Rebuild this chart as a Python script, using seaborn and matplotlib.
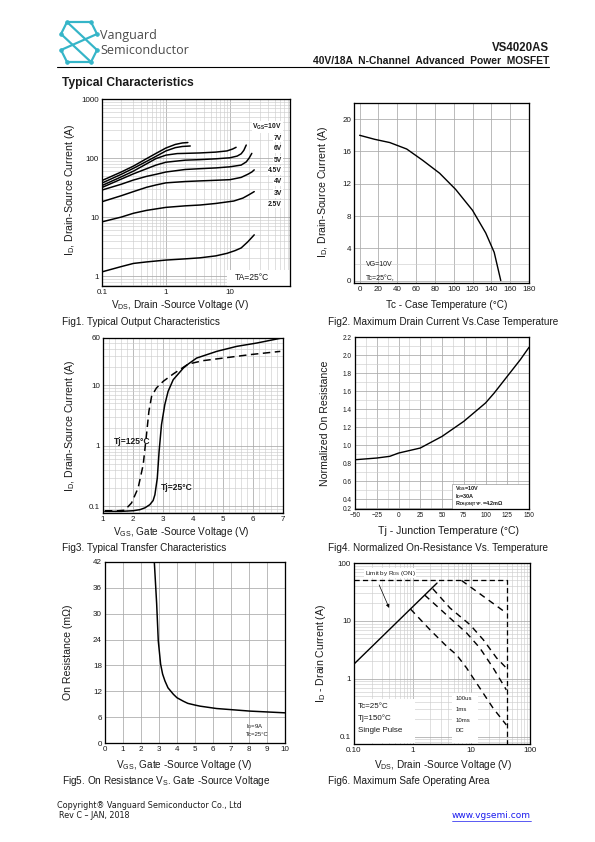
import numpy as np
import matplotlib
matplotlib.use("Agg")
import matplotlib.pyplot as plt
import seaborn as sns
from matplotlib.ticker import LogLocator, MultipleLocator, NullFormatter, FixedLocator
from matplotlib.patches import Rectangle
from matplotlib.lines import Line2D

# ---------------- data ----------------
# Fig1  Typical output characteristics (VDS [V], ID [A])
vgs_labels = [r"V$_{\mathbf{GS}}$=10V", "7V", "6V", "5V", "4.5V", "4V", "3V", "2.5V"]
vds_10v = [0.1, 0.2, 0.31, 0.5, 0.7, 1.0, 1.4, 1.8, 2.2]
id_10v = [41.6, 58, 73, 98, 120, 148, 170, 180, 183]
vds_7v = [0.1, 0.2, 0.31, 0.5, 0.7, 1.0, 1.4, 1.8, 2.4]
id_7v = [37.7, 53, 67, 88, 107, 132, 150, 157, 160]
vds_6v = [0.1, 0.2, 0.31, 0.5, 0.7, 1.0, 1.5, 2.0, 3.4, 6.0, 9.0, 11.0, 12.5]
id_6v = [34.2, 48, 60, 80, 98, 112, 119, 120, 122, 126, 132, 142, 152]
vds_5v = [0.1, 0.2, 0.31, 0.5, 0.7, 1.0, 2.0, 3.4, 6.0, 10.0, 13.0, 15.0, 16.5, 18.0]
id_5v = [31.7, 44, 54, 66, 76, 85, 92, 94, 97, 101, 108, 118, 135, 166]
vds_45v = [0.1, 0.2, 0.31, 0.5, 0.7, 1.0, 2.0, 3.4, 6.0, 10.0, 15.0, 18.0, 20.0, 22.0]
id_45v = [28.7, 36, 42.4, 49, 53, 58, 64, 66, 68, 71, 76, 86, 100, 120]
vds_4v = [0.1, 0.2, 0.31, 0.5, 0.7, 1.0, 2.0, 3.4, 6.0, 10.0, 15.0, 19.0, 22.0, 24.0]
id_4v = [18.2, 23, 27, 32, 35, 38, 40, 41, 42, 43, 47, 53, 58, 63]
vds_3v = [0.1, 0.2, 0.31, 0.5, 1.0, 2.0, 3.4, 6.0, 11.5, 16.0, 20.0, 24.0]
id_3v = [8.3, 10, 11.6, 13, 14.6, 15.5, 16, 17, 18.7, 21, 24, 27]
vds_25v = [0.1, 0.2, 0.31, 0.5, 1.0, 2.0, 3.4, 6.0, 9.0, 12.0, 15.0, 19.0, 24.0]
id_25v = [1.18, 1.45, 1.64, 1.74, 1.87, 1.96, 2.04, 2.2, 2.43, 2.7, 3.0, 3.8, 5.0]
fig1_xticks = [0.1, 1, 10]
fig1_xticklabels = ["0.1", "1", "10"]
fig1_yticks = [1, 10, 100, 1000]
fig1_yticklabels = ["1", "10", "100", "1000"]

# Fig2  Maximum drain current vs case temperature
tc_case = [0, 16, 32, 50, 67, 85, 102, 120, 134, 143, 150]
id_max = [18.0, 17.5, 17.1, 16.3, 14.9, 13.3, 11.3, 8.7, 5.9, 3.5, 0.0]
fig2_xticks = list(range(0, 181, 20))
fig2_yticks = [0, 4, 8, 12, 16, 20]

# Fig3  Transfer characteristics
vgs_25 = [1.06, 1.6, 2.0, 2.23, 2.4, 2.56, 2.67, 2.73, 2.81, 2.87, 2.95, 3.06, 3.17,
          3.34, 3.68, 3.84, 4.12, 4.79, 5.46, 6.13, 6.96]
id_25 = [0.083, 0.083, 0.085, 0.0885, 0.095, 0.107, 0.125, 0.156, 0.294, 0.81, 2.23,
         4.77, 7.9, 12.3, 19.2, 22.3, 28, 36.1, 43.7, 49.6, 60]
vgs_125 = [1.06, 1.5, 1.72, 1.95, 2.17, 2.34, 2.45, 2.53, 2.62, 2.78, 3.01, 3.34,
           3.84, 4.34, 5.01, 5.9, 6.91]
id_125 = [0.085, 0.085, 0.0865, 0.114, 0.201, 0.489, 1.53, 3.7, 6.55, 8.98, 11.6,
          15.3, 22.3, 25.4, 28, 31.9, 36.1]
fig3_yticks = [0.1, 1, 10, 60]
fig3_yticklabels = ["0.1", "1", "10", "60"]

# Fig4  Normalized on-resistance vs junction temperature
tj = [-50, -25, -10, 0, 25, 50, 75, 100, 110, 125, 140, 150]
rds_norm = [0.837, 0.856, 0.875, 0.911, 0.967, 1.096, 1.263, 1.467, 1.578, 1.763, 1.948, 2.085]
fig4_xticks = [-50, -25, 0, 25, 50, 75, 100, 125, 150]
fig4_yticks = [0.3, 0.4, 0.6, 0.8, 1.0, 1.2, 1.4, 1.6, 1.8, 2.0, 2.2]
fig4_yticklabels = ["0.2", "0.4", "0.6", "0.8", "1.0", "1.2", "1.4", "1.6", "1.8", "2.0", "2.2"]

# Fig5  On resistance vs gate-source voltage
vgs_r = [2.74, 2.87, 2.96, 3.09, 3.2, 3.33, 3.5, 3.8, 4.0, 4.35, 4.6, 5.0, 5.28, 6.2, 8.06, 10.0]
rds_on = [42.0, 32.3, 23.7, 18.3, 16.0, 14.4, 12.8, 11.3, 10.5, 9.7, 9.2, 8.8, 8.55, 8.0, 7.4, 7.0]
fig5_xticks = list(range(0, 11))
fig5_yticks = [0, 6, 12, 18, 24, 30, 36, 42]

# Fig6  Safe operating area
rds_lim_v = [0.1, 2.6]
rds_lim_i = [1.8, 45]
pkg_lim_v = [0.1, 40, 40]
pkg_lim_i = [50, 50, 0.075]
soa_100us_v = [6.8, 16, 39.5]
soa_100us_i = [50, 26.6, 13.7]
soa_1ms_v = [2.2, 4.33, 9.5, 16, 27, 39.5]
soa_1ms_i = [36, 16.7, 8.6, 4.73, 2.29, 1.54]
soa_10ms_v = [1.6, 4.33, 8.3, 14, 23.6, 39.5]
soa_10ms_i = [28, 11.2, 6.2, 3.4, 1.54, 0.645]
soa_dc_v = [0.92, 1.97, 3.8, 5.6, 8.3, 14, 23.6, 39.5]
soa_dc_i = [16, 7.05, 3.64, 2.6, 1.54, 0.69, 0.31, 0.16]
fig6_xticks = [0.1, 1, 10, 100]
fig6_xticklabels = ["0.10", "1", "10", "100"]
fig6_yticks = [0.1, 1, 10, 100]
fig6_yticklabels = ["0.1", "1", "10", "100"]
pulse_labels = ["100us", "1ms", "10ms", "DC"]

# ---------------- style ----------------
sns.set_theme(style="white")
plt.rcParams["font.family"] = ["Liberation Sans", "DejaVu Sans"]
plt.rcParams["mathtext.fontset"] = "custom"
plt.rcParams["mathtext.rm"] = "Liberation Sans"
plt.rcParams["mathtext.it"] = "Liberation Sans:italic"
plt.rcParams["mathtext.bf"] = "Liberation Sans:bold"

W, H = 595, 842
fig = plt.figure(figsize=(W / 72, H / 72), dpi=72)
fig.patch.set_facecolor("white")

GMAJ = "#ababab"
GMIN = "#cdcdcd"
TXT = "#1a1a1a"


def add_ax(box, ts=8):
    x0, y0, x1, y1 = box
    ax = fig.add_axes([x0 / W, 1 - y1 / H, (x1 - x0) / W, (y1 - y0) / H])
    ax.set_facecolor("white")
    for s in ax.spines.values():
        s.set_visible(True)
        s.set_color("black")
        s.set_linewidth(1.3)
    ax.tick_params(which="both", length=0, labelsize=ts, pad=3, labelcolor=TXT)
    return ax


def grid(ax, minor=True):
    ax.set_axisbelow(True)
    ax.grid(True, which="major", color=GMAJ, lw=0.8)
    if minor:
        ax.grid(True, which="minor", color=GMIN, lw=0.6)


def px2ax(box, x, y):
    x0, y0, x1, y1 = box
    return (x - x0) / (x1 - x0), (y1 - y) / (y1 - y0)


def labels(ax, box, xl, yl, xl_pos, yl_pos, fsx=10, fsy=10.5):
    ax.set_xlabel(xl, fontsize=fsx, color=TXT)
    ax.set_ylabel(yl, fontsize=fsy, color=TXT)
    ax.xaxis.set_label_coords(*px2ax(box, *xl_pos))
    ax.yaxis.set_label_coords(*px2ax(box, *yl_pos))
    ax.xaxis.label.set_va("center")
    ax.yaxis.label.set_va("center")


def ftext(x, y, s, **kw):
    fig.text(x / W, 1 - y / H, s, **kw)


def line(ax, x, y, lw=1.4, dashed=False, dash=(5, 3)):
    sns.lineplot(x=x, y=y, ax=ax, color="black", linewidth=lw, estimator=None, sort=False)
    ln = ax.lines[-1]
    if dashed:
        ln.set_dashes(dash)
    return ln


ID_LABEL = r"I$_\mathregular{D}$, Drain-Source Current (A)"
VDS_LABEL = r"V$_\mathregular{DS}$, Drain -Source Voltage (V)"
VGS_LABEL = r"V$_\mathregular{GS}$, Gate -Source Voltage (V)"
CAP = 10

# ---------------- header ----------------
logo_c = "#35b5c8"
pts = {"TL": (67, 22), "TR": (91, 22), "L1": (61, 34), "R1": (97, 34),
       "L2": (61, 50), "R2": (97, 50), "BL": (67, 62), "BR": (91, 62)}
segs = [("L1", "TL"), ("TL", "TR"), ("TR", "R1"), ("TL", "R2"), ("L1", "BR"),
        ("R2", "BR"), ("BR", "BL"), ("BL", "L2"), ("L2", "R1")]
for a, b in segs:
    (xa, ya), (xb, yb) = pts[a], pts[b]
    fig.add_artist(Line2D([xa / W, xb / W], [1 - ya / H, 1 - yb / H], color=logo_c, lw=2.2,
                          solid_capstyle="round"))
for k, (xx, yy) in pts.items():
    fig.add_artist(Line2D([xx / W], [1 - yy / H], marker="o", ms=3.5, color=logo_c, lw=0))
ftext(100, 36, "Vanguard", fontsize=12.5, color="#4a4a4a", family="Open Sans", va="center")
ftext(100, 51, "Semiconductor", fontsize=12.5, color="#4a4a4a", family="Open Sans", va="center")
ftext(549, 48, "VS4020AS", fontsize=11.5, fontweight="bold", ha="right", va="center", color=TXT)
ftext(549, 61.5, "40V/18A  N-Channel  Advanced  Power  MOSFET", fontsize=10.2, fontweight="bold",
      ha="right", va="center", color=TXT)
fig.add_artist(Line2D([57 / W, 549 / W], [1 - 67 / H, 1 - 67 / H], color="black", lw=1.1))
ftext(62, 83, "Typical Characteristics", fontsize=12, fontweight="bold", va="center", color=TXT)

# ---------------- Fig1 ----------------
b1 = (102, 99, 290, 286)
ax1 = add_ax(b1)
ax1.set_xscale("log")
ax1.set_yscale("log")
curves1 = [(vds_10v, id_10v), (vds_7v, id_7v), (vds_6v, id_6v), (vds_5v, id_5v),
           (vds_45v, id_45v), (vds_4v, id_4v), (vds_3v, id_3v), (vds_25v, id_25v)]
for xs, ys in curves1:
    line(ax1, xs, ys, lw=1.5)
ax1.set_xlim(0.1, 87)
ax1.set_ylim(0.68, 1000)
ax1.set_xticks(fig1_xticks, fig1_xticklabels)
ax1.set_yticks(fig1_yticks, fig1_yticklabels)
for axis in (ax1.xaxis, ax1.yaxis):
    axis.set_minor_locator(LogLocator(base=10, subs=np.arange(2, 10)))
    axis.set_minor_formatter(NullFormatter())
grid(ax1)
lab_y = [127, 138, 149, 160, 170.5, 181.5, 193.5, 204]
for lbl, yy in zip(vgs_labels, lab_y):
    ax1.text(*px2ax(b1, 282, yy), lbl, transform=ax1.transAxes, fontsize=6.8, fontweight="bold",
             ha="right", va="center", color=TXT,
             bbox=dict(facecolor="white", edgecolor="none", pad=0.6))
ax1.add_patch(Rectangle(px2ax(b1, 227, 286), (290 - 227) / 188, 16 / 187,
                        transform=ax1.transAxes, facecolor="white", edgecolor="none", zorder=1.5))
ax1.text(*px2ax(b1, 252, 278), "TA=25°C", transform=ax1.transAxes, fontsize=8.5,
         ha="center", va="center", color=TXT, zorder=3)
labels(ax1, b1, VDS_LABEL, ID_LABEL, (180, 305), (70, 190))
ftext(62, 322, "Fig1. Typical Output Characteristics", fontsize=CAP, va="center", color=TXT)

# ---------------- Fig2 ----------------
b2 = (354, 103, 529, 283)
ax2 = add_ax(b2)
line(ax2, tc_case, id_max, lw=1.4)
ax2.set_xlim(-6, 180)
ax2.set_ylim(-0.3, 22)
ax2.set_xticks(fig2_xticks)
ax2.set_yticks(fig2_yticks)
ax2.yaxis.set_minor_locator(FixedLocator([2]))
grid(ax2)
ax2.text(*px2ax(b2, 366, 264), "VG=10V", transform=ax2.transAxes, fontsize=7, va="center",
         color=TXT)
ax2.text(*px2ax(b2, 366, 279), "Tc=25°C,", transform=ax2.transAxes, fontsize=7, va="center",
         color=TXT)
labels(ax2, b2, "Tc - Case Temperature (°C)", ID_LABEL, (447, 305), (323, 192))
ftext(328, 322, "Fig2. Maximum Drain Current Vs.Case Temperature", fontsize=CAP, va="center",
      color=TXT)

# ---------------- Fig3 ----------------
b3 = (103, 338, 283, 513)
ax3 = add_ax(b3)
ax3.set_yscale("log")
line(ax3, vgs_25, id_25, lw=1.5)
line(ax3, vgs_125, id_125, lw=1.5, dashed=True, dash=(5, 3))
ax3.set_xlim(1, 7)
ax3.set_ylim(0.078, 60)
ax3.set_xticks(range(1, 8))
ax3.set_yticks(fig3_yticks, fig3_yticklabels)
ax3.xaxis.set_minor_locator(MultipleLocator(0.2))
ax3.yaxis.set_minor_locator(LogLocator(base=10, subs=np.arange(2, 10)))
ax3.yaxis.set_minor_formatter(NullFormatter())
grid(ax3)
ax3.text(*px2ax(b3, 150, 442), "Tj=125°C", transform=ax3.transAxes, fontsize=8.5,
         fontweight="bold", ha="right", va="center", color=TXT)
ax3.text(*px2ax(b3, 161, 488), "Tj=25°C", transform=ax3.transAxes, fontsize=8.5,
         fontweight="bold", ha="left", va="center", color=TXT)
labels(ax3, b3, VGS_LABEL, ID_LABEL, (181, 532), (70, 426))
ftext(62, 548, "Fig3. Typical Transfer Characteristics", fontsize=CAP, va="center", color=TXT)

# ---------------- Fig4 ----------------
b4 = (355, 337, 529, 509)
ax4 = add_ax(b4, ts=6.5)
line(ax4, tj, rds_norm, lw=1.4)
ax4.set_xlim(-50, 150)
ax4.set_ylim(0.29, 2.2)
ax4.set_xticks(fig4_xticks)
ax4.set_yticks(fig4_yticks, fig4_yticklabels)
ax4.xaxis.set_minor_locator(MultipleLocator(12.5))
ax4.yaxis.set_minor_locator(MultipleLocator(0.1))
grid(ax4)
ax4.add_patch(Rectangle(px2ax(b4, 452, 509), (529 - 452) / 174, 25 / 172,
                        transform=ax4.transAxes, facecolor="white", edgecolor="#888888",
                        lw=0.6, zorder=2.5))
for txt, yy in zip([r"V$_{\mathbf{GS}}$=10V", r"I$_{\mathbf{D}}$=30A",
                    r"R$_{\mathbf{DS(ON)TYP.}}$=4.2mΩ"], [489, 497, 505]):
    ax4.text(*px2ax(b4, 455, yy), txt, transform=ax4.transAxes, fontsize=5.5, fontweight="bold",
             va="center", color=TXT, zorder=3)
labels(ax4, b4, "Tj - Junction Temperature (°C)", "Normalized On Resistance", (448, 531),
       (325, 423), fsx=10.5, fsy=10.5)
ftext(328, 548, "Fig4. Normalized On-Resistance Vs. Temperature", fontsize=CAP, va="center",
      color=TXT)

# ---------------- Fig5 ----------------
b5 = (105, 562, 285, 743)
ax5 = add_ax(b5)
line(ax5, vgs_r, rds_on, lw=1.5)
ax5.set_xlim(0, 10)
ax5.set_ylim(0, 42)
ax5.set_xticks(fig5_xticks)
ax5.set_yticks(fig5_yticks)
grid(ax5, minor=False)
ax5.text(*px2ax(b5, 246, 727), r"I$_\mathregular{D}$=9A", transform=ax5.transAxes, fontsize=6,
         va="center", color=TXT)
ax5.text(*px2ax(b5, 246, 735), "Tc=25°C", transform=ax5.transAxes, fontsize=6,
         va="center", color=TXT)
labels(ax5, b5, VGS_LABEL, "On Resistance (mΩ)", (184, 765), (68, 652))
ftext(62, 781, r"Fig5. On Resistance V$_\mathregular{S}$. Gate -Source Voltage", fontsize=CAP,
      va="center", color=TXT)

# ---------------- Fig6 ----------------
b6 = (354, 563, 530, 744)
ax6 = add_ax(b6)
ax6.set_xscale("log")
ax6.set_yscale("log")
line(ax6, rds_lim_v, rds_lim_i, lw=1.4)
line(ax6, pkg_lim_v, pkg_lim_i, lw=1.3, dashed=True, dash=(4, 2.5))
for xs, ys in [(soa_100us_v, soa_100us_i), (soa_1ms_v, soa_1ms_i),
               (soa_10ms_v, soa_10ms_i), (soa_dc_v, soa_dc_i)]:
    line(ax6, xs, ys, lw=1.4, dashed=True, dash=(4.5, 3.5))
ax6.set_xlim(0.1, 100)
ax6.set_ylim(0.075, 100)
ax6.set_xticks(fig6_xticks, fig6_xticklabels)
ax6.set_yticks(fig6_yticks, fig6_yticklabels)
for axis in (ax6.xaxis, ax6.yaxis):
    axis.set_minor_locator(LogLocator(base=10, subs=np.arange(2, 10)))
    axis.set_minor_formatter(NullFormatter())
grid(ax6)
ax6.text(*px2ax(b6, 365, 573), r"Limit by R$_\mathregular{DS}$ (ON)", transform=ax6.transAxes,
         fontsize=6.3, va="center", color=TXT,
         bbox=dict(facecolor="white", edgecolor="none", pad=0.5))
ax6.annotate("", xy=(0.41, 15.6), xytext=(0.26, 45),
             arrowprops=dict(arrowstyle="-|>", color="black", lw=0.7, mutation_scale=7))
ax6.add_patch(Rectangle(px2ax(b6, 355, 743), (415 - 355) / 176, 44 / 181,
                        transform=ax6.transAxes, facecolor="white", edgecolor="none", zorder=2.5))
for txt, yy in zip(["Tc=25°C", "Tj=150°C", "Single Pulse"], [706, 718, 731]):
    ax6.text(*px2ax(b6, 358, yy), txt, transform=ax6.transAxes, fontsize=8, va="center",
             color=TXT, zorder=3)
ax6.add_patch(Rectangle(px2ax(b6, 452, 743), (478 - 452) / 176, 50 / 181,
                        transform=ax6.transAxes, facecolor="white", edgecolor="none", zorder=2.5))
for txt, yy in zip(pulse_labels, [698, 709.5, 720, 731]):
    ax6.text(*px2ax(b6, 456, yy), txt, transform=ax6.transAxes, fontsize=6, va="center",
             color=TXT, zorder=3)
labels(ax6, b6, VDS_LABEL, r"I$_\mathregular{D}$ - Drain Current (A)", (443, 765), (321, 653))
ftext(328, 781, "Fig6. Maximum Safe Operating Area", fontsize=CAP, va="center", color=TXT)

# ---------------- footer ----------------
ftext(57, 805, "Copyright® Vanguard Semiconductor Co., Ltd", fontsize=8, family="DejaVu Sans",
      va="center", color=TXT)
ftext(59, 816, "Rev C – JAN, 2018", fontsize=8, family="DejaVu Sans", va="center", color=TXT)
ftext(531, 816, "www.vgsemi.com", fontsize=9, family="DejaVu Sans", va="center", ha="right",
      color="#1a1aee")
fig.add_artist(Line2D([452 / W, 531 / W], [1 - 821 / H, 1 - 821 / H], color="#1a1aee", lw=0.7))

fig.savefig("out.png", dpi=72)
